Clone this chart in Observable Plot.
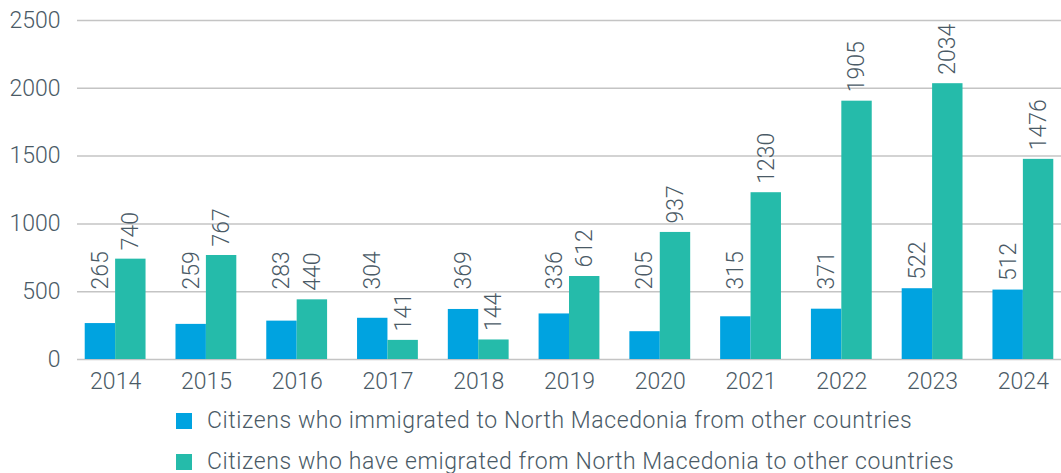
<!DOCTYPE html>
<html>
<head>
<meta charset="utf-8">
<script src="https://cdn.jsdelivr.net/npm/d3@7"></script>
<script src="https://cdn.jsdelivr.net/npm/@observablehq/plot@0.6"></script>
<style>
  html, body { margin: 0; padding: 0; background: #fff; }
  body { font-family: Roboto, "Liberation Sans", sans-serif; font-weight: 300; color: #4a5a66; }
  #legend { padding-left: 176px; }
  .row { display: flex; align-items: center; height: 41px; font-size: 23px; letter-spacing: 0.6px; }
  .sw { width: 16px; height: 16px; margin-right: 15px; flex: none; }
</style>
</head>
<body>
<div id="chart"></div>
<div id="legend"></div>
<script>
const years = ["2014","2015","2016","2017","2018","2019","2020","2021","2022","2023","2024"];
const series = [
  "Citizens who immigrated to North Macedonia from other countries",
  "Citizens who have emigrated from North Macedonia to other countries"
];
const immigrated = [265, 259, 283, 304, 369, 336, 205, 315, 371, 522, 512];
const emigrated = [740, 767, 440, 141, 144, 612, 937, 1230, 1905, 2034, 1476];
const colors = ["#00a3e0", "#25bbaa"];
const yTicks = [0, 500, 1000, 1500, 2000, 2500];

const W = 1061, H = 400, ML = 77, MR = 0, MT = 20, MB = 41;
const padIn = 0.33, padOut = 0.085;
const bw = d3.scaleBand().domain(years).range([ML, W - MR]).paddingInner(padIn).paddingOuter(padOut).bandwidth();
const half = bw / 2;

const imData = years.map((yr, i) => ({year: yr, series: series[0], value: immigrated[i]}));
const emData = years.map((yr, i) => ({year: yr, series: series[1], value: emigrated[i]}));

const textColor = "#4a5a66";

const chart = Plot.plot({
  width: W,
  height: H,
  marginLeft: ML,
  marginRight: MR,
  marginTop: MT,
  marginBottom: MB,
  style: {fontFamily: "Roboto, 'Liberation Sans', sans-serif", fontSize: "23px", fontWeight: 300, color: textColor, background: "#fff"},
  x: {domain: years, paddingInner: padIn, paddingOuter: padOut, round: false, label: null, tickSize: 0, tickPadding: 13},
  y: {domain: [0, 2500], ticks: yTicks, tickFormat: d => String(d), tickSize: 0, tickPadding: 17, label: null},
  color: {domain: series, range: colors},
  marks: [
    Plot.ruleY(yTicks, {stroke: "#c4c4c4", strokeWidth: 1.5}),
    Plot.barY(imData, {x: "year", y: "value", fill: "series", insetRight: half}),
    Plot.barY(emData, {x: "year", y: "value", fill: "series", insetLeft: half}),
    Plot.text(imData, {
      x: "year", y: d => Math.max(d.value, 450), text: d => String(d.value),
      rotate: -90, textAnchor: "start", dx: -half / 2, dy: -9, fill: textColor
    }),
    Plot.text(emData, {
      x: "year", y: "value", text: d => String(d.value),
      rotate: -90, textAnchor: "start", dx: half / 2, dy: -9, fill: textColor
    })
  ]
});
document.getElementById("chart").appendChild(chart);

const legend = document.getElementById("legend");
series.forEach((s, i) => {
  const row = document.createElement("div");
  row.className = "row";
  const sw = document.createElement("span");
  sw.className = "sw";
  sw.style.background = colors[i];
  const t = document.createElement("span");
  t.textContent = s;
  row.appendChild(sw);
  row.appendChild(t);
  legend.appendChild(row);
});
</script>
</body>
</html>
